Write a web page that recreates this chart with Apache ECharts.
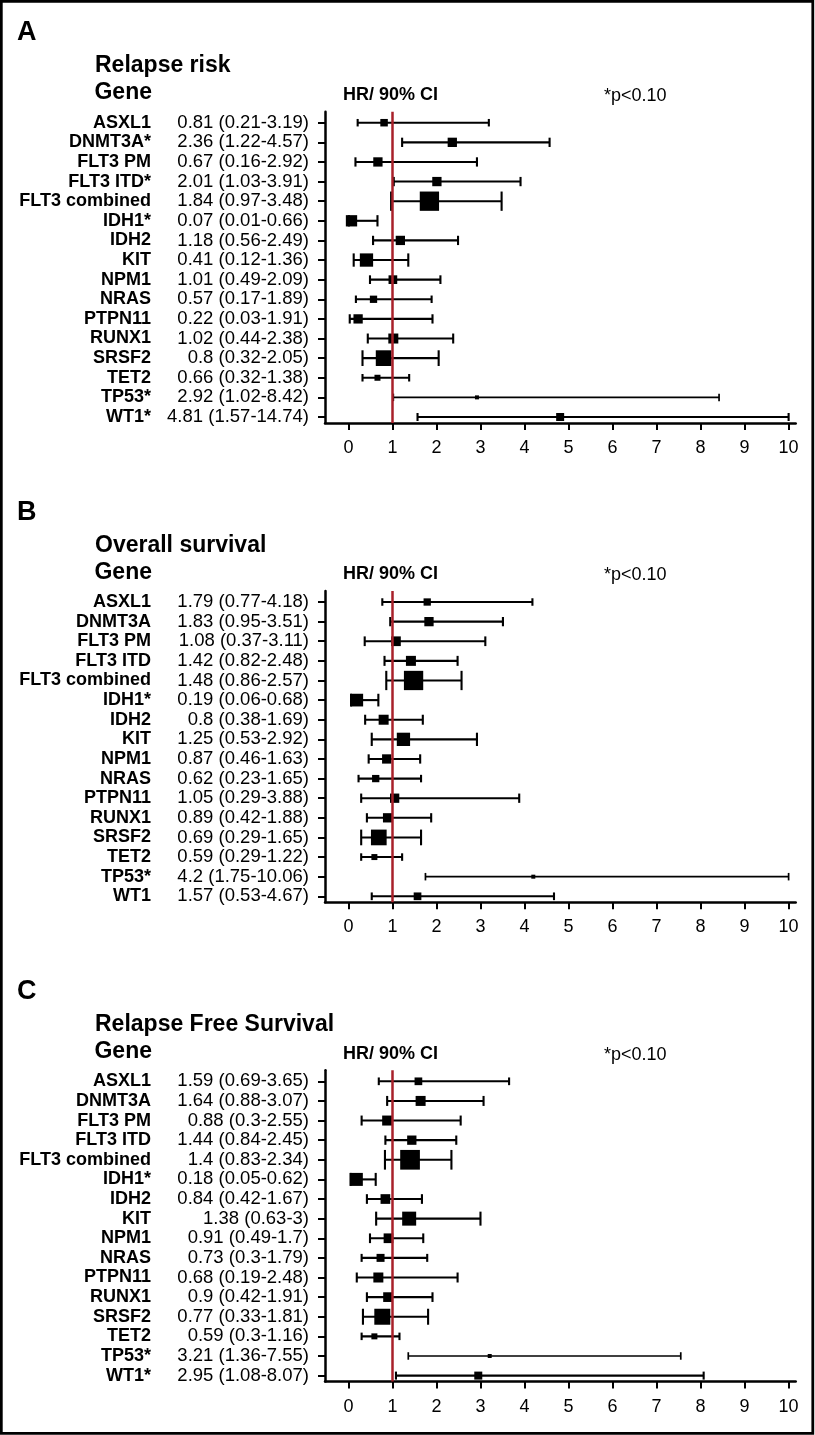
<!DOCTYPE html>
<html>
<head>
<meta charset="utf-8">
<script src="https://cdn.jsdelivr.net/npm/echarts@6/dist/echarts.min.js"></script>
<style>
  body { margin: 0; background: #fff; }
  #main { width: 815px; height: 1435px; }
</style>
</head>
<body>
<div id="main"></div>
<script>
// forest plots: relapse risk / overall survival / relapse free survival

const genes = ['ASXL1', 'DNMT3A', 'FLT3 PM', 'FLT3 ITD', 'FLT3 combined', 'IDH1', 'IDH2', 'KIT',
  'NPM1', 'NRAS', 'PTPN11', 'RUNX1', 'SRSF2', 'TET2', 'TP53', 'WT1'];
const xTicks = [0, 1, 2, 3, 4, 5, 6, 7, 8, 9, 10];
const panelLetters = ['A', 'B', 'C'];
const panelTitles = ['Relapse risk', 'Overall survival', 'Relapse Free Survival'];

// A - relapse risk
const sigA = [0, 1, 0, 1, 0, 1, 0, 0, 0, 0, 0, 0, 0, 0, 1, 1];
const hrA = [0.81, 2.36, 0.67, 2.01, 1.84, 0.07, 1.18, 0.41, 1.01, 0.57, 0.22, 1.02, 0.8, 0.66, 2.92, 4.81];
const loA = [0.21, 1.22, 0.16, 1.03, 0.97, 0.01, 0.56, 0.12, 0.49, 0.17, 0.03, 0.44, 0.32, 0.32, 1.02, 1.57];
const hiA = [3.19, 4.57, 2.92, 3.91, 3.48, 0.66, 2.49, 1.36, 2.09, 1.89, 1.91, 2.38, 2.05, 1.38, 8.42, 14.74];
const wtA = [7.5, 9.3, 9.3, 9.3, 19.3, 11.3, 9.3, 13.3, 8.7, 7.3, 9.3, 10, 15.7, 6, 4, 8];

// B - overall survival
const sigB = [0, 0, 0, 0, 0, 1, 0, 0, 0, 0, 0, 0, 0, 0, 1, 0];
const hrB = [1.79, 1.83, 1.08, 1.42, 1.48, 0.19, 0.8, 1.25, 0.87, 0.62, 1.05, 0.89, 0.69, 0.59, 4.2, 1.57];
const loB = [0.77, 0.95, 0.37, 0.82, 0.86, 0.06, 0.38, 0.53, 0.46, 0.23, 0.29, 0.42, 0.29, 0.29, 1.75, 0.53];
const hiB = [4.18, 3.51, 3.11, 2.48, 2.57, 0.68, 1.69, 2.92, 1.63, 1.65, 3.88, 1.88, 1.65, 1.22, 10.06, 4.67];
const wtB = [7.3, 9.3, 9.7, 10, 19.3, 12.7, 10, 13.3, 9.3, 7.3, 9.3, 9.3, 15.7, 6, 4, 7.7];

// C - relapse free survival
const sigC = [0, 0, 0, 0, 0, 1, 0, 0, 0, 0, 0, 0, 0, 0, 1, 1];
const hrC = [1.59, 1.64, 0.88, 1.44, 1.4, 0.18, 0.84, 1.38, 0.91, 0.73, 0.68, 0.9, 0.77, 0.59, 3.21, 2.95];
const loC = [0.69, 0.88, 0.3, 0.84, 0.83, 0.05, 0.42, 0.63, 0.49, 0.3, 0.19, 0.42, 0.33, 0.3, 1.36, 1.08];
const hiC = [3.65, 3.07, 2.55, 2.45, 2.34, 0.62, 1.67, 3, 1.7, 1.79, 2.48, 1.91, 1.81, 1.16, 7.55, 8.07];
const wtC = [7.7, 10, 10, 9.3, 19.7, 13, 9.7, 14, 9.7, 8, 10, 9.7, 16, 6, 4, 8];

const panels = [
  { sig: sigA, hr: hrA, lo: loA, hi: hiA, wt: wtA },
  { sig: sigB, hr: hrB, lo: loB, hi: hiB, wt: wtB },
  { sig: sigC, hr: hrC, lo: loC, hi: hiC, wt: wtC }
];

const FONT = '"Liberation Sans", Arial, Helvetica, sans-serif';
const PANEL_H = 479.3;
const X_SHOWN = 10; // whiskers are cut at the end of the axis

const chart = echarts.init(document.getElementById('main'));

function renderItem(params, api) {
  const row = api.value(3);
  const c = api.coord([api.value(0), row]);
  const l = api.coord([api.value(1), row]);
  const r = api.coord([Math.min(api.value(2), X_SHOWN), row]);
  const s = api.value(4);
  const ch = Math.max(s, 7.5) / 2;
  const lw = s < 5 ? 1.7 : 2.1;
  const y = c[1];
  return {
    type: 'group',
    children: [
      { type: 'line', shape: { x1: l[0], y1: y, x2: r[0], y2: y }, style: { stroke: '#000', lineWidth: lw } },
      { type: 'line', shape: { x1: l[0], y1: y - ch, x2: l[0], y2: y + ch }, style: { stroke: '#000', lineWidth: lw } },
      { type: 'line', shape: { x1: r[0], y1: y - ch, x2: r[0], y2: y + ch }, style: { stroke: '#000', lineWidth: lw } },
      { type: 'rect', shape: { x: c[0] - s / 2, y: y - s / 2, width: s, height: s }, style: { fill: '#000' } }
    ]
  };
}

const grids = [], xAxes = [], yAxes = [], series = [], graphics = [];

panels.forEach((p, k) => {
  const o = k * PANEL_H;
  grids.push({ left: 325, top: 111.7 + o, width: 470.7, height: 311.3 });

  xAxes.push({
    type: 'value', gridIndex: k, min: -0.532, max: 10.161,
    axisLine: { onZero: false, lineStyle: { color: '#000', width: 2.5 } },
    axisTick: { customValues: xTicks, length: 7, lineStyle: { color: '#000', width: 2 } },
    axisLabel: { customValues: xTicks, margin: 16, color: '#000', fontSize: 18, fontFamily: FONT },
    splitLine: { show: false }
  });

  yAxes.push({
    type: 'value', gridIndex: k, inverse: true, min: -0.561, max: 15.306,
    axisLine: { onZero: false, lineStyle: { color: '#000', width: 2.5 } },
    axisTick: { customValues: genes.map((g, i) => i), length: 7, lineStyle: { color: '#000', width: 2 } },
    axisLabel: {
      customValues: genes.map((g, i) => i),
      margin: 16,
      formatter: v => {
        const i = Math.round(v);
        const name = genes[i] + (p.sig[i] ? '*' : '');
        return '{g|' + name + '}{h|' + p.hr[i] + ' (' + p.lo[i] + '-' + p.hi[i] + ')}';
      },
      rich: {
        g: { fontFamily: FONT, fontWeight: 'bold', fontSize: 18, color: '#000', width: 150, align: 'right' },
        h: { fontFamily: FONT, fontSize: 18.5, color: '#000', width: 158, align: 'right' }
      }
    },
    splitLine: { show: false }
  });

  series.push({
    type: 'custom', xAxisIndex: k, yAxisIndex: k,
    renderItem: renderItem,
    data: genes.map((g, i) => [p.hr[i], p.lo[i], p.hi[i], i, p.wt[i]]),
    markLine: {
      silent: true, symbol: ['none', 'none'], label: { show: false },
      lineStyle: { color: '#a8202a', width: 2.5, type: 'solid' },
      data: [{ xAxis: 1 }]
    },
    z: 3
  });

  const txt = (x, y, text, font, align) => ({
    type: 'text', x: x, y: y,
    style: { text: text, font: font, fill: '#000', textAlign: align || 'left', textVerticalAlign: 'middle' }
  });
  graphics.push(txt(17, 33 + o, panelLetters[k], 'bold 27px ' + FONT));
  graphics.push(txt(95, 66 + o, panelTitles[k], 'bold 23px ' + FONT));
  graphics.push(txt(152, 93 + o, 'Gene', 'bold 23px ' + FONT, 'right'));
  graphics.push(txt(343, 95 + o, 'HR/ 90% CI', 'bold 18px ' + FONT));
  graphics.push(txt(604, 96 + o, '*p<0.10', '18px ' + FONT));
});

graphics.push({
  type: 'rect', shape: { x: 1.3, y: 1.3, width: 811.5, height: 1432 },
  style: { fill: 'none', stroke: '#000', lineWidth: 2.8 }
});

chart.setOption({
  animation: false,
  backgroundColor: '#fff',
  grid: grids,
  xAxis: xAxes,
  yAxis: yAxes,
  series: series,
  graphic: graphics
});
</script>
</body>
</html>
